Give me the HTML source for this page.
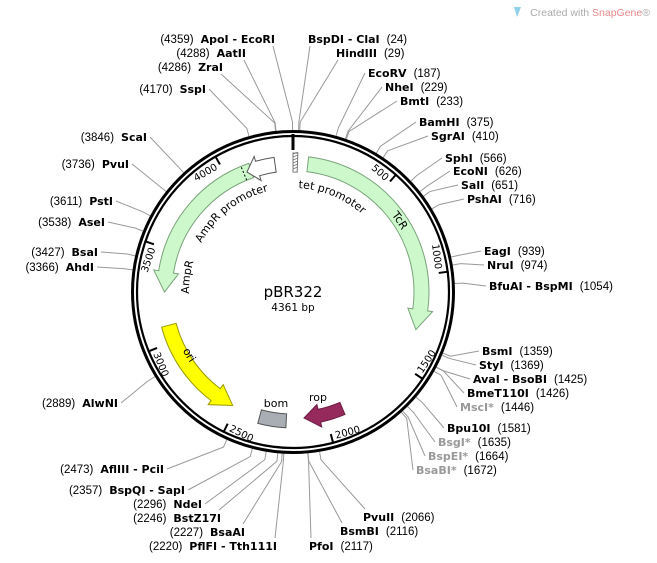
<!DOCTYPE html>
<html><head><meta charset="utf-8"><style>
html,body{margin:0;padding:0;background:#fff;width:657px;height:563px;overflow:hidden}
svg{display:block}
.n{font-family:"DejaVu Sans",Verdana,sans-serif;font-weight:bold;font-size:11px;fill:#000}
.g{fill:#999}
.p{font-family:"Liberation Sans",Arial,sans-serif;font-weight:normal;font-size:11.5px;fill:#000}
.t{font-family:"DejaVu Sans",Verdana,sans-serif;font-size:10px;fill:#000}
.f{font-family:"DejaVu Sans",Verdana,sans-serif;font-size:11px;fill:#000}
</style></head><body>
<svg id="s" width="657" height="563" xmlns="http://www.w3.org/2000/svg">
<g id="lines" stroke="#999" stroke-width="1" fill="none"></g>
<g id="feat"></g>
<circle cx="293" cy="292" r="160.5" fill="none" stroke="#000" stroke-width="3"/>
<circle cx="293" cy="292" r="156" fill="none" stroke="#000" stroke-width="2.2"/>
<g id="ticks"></g>
<text x="293" y="297" text-anchor="middle" style="font-family:'DejaVu Sans',sans-serif;font-size:15px">pBR322</text>
<text x="293" y="311" text-anchor="middle" style="font-family:'DejaVu Sans',sans-serif;font-size:10.5px">4361 bp</text>
<path d="M514 7 l3 10 l4 -10 z" fill="#8fd0ea"/>
<text x="650" y="16" text-anchor="end" style="font-family:'Liberation Sans',sans-serif;font-size:10.5px;fill:#aaa">Created with <tspan fill="#e98a8a">SnapGene</tspan>®</text>
<g id="labels"></g>
</svg>
<script>
const cx=293,cy=292,NS="http://www.w3.org/2000/svg";
function P(r,a){a=a*Math.PI/180;return [cx+r*Math.sin(a),cy-r*Math.cos(a)];}
function ps(p){return p[0].toFixed(2)+" "+p[1].toFixed(2);}
function arc(r,a1,a2){const sw=a2>a1?1:0,lg=Math.abs(a2-a1)>180?1:0;return ` A ${r} ${r} 0 ${lg} ${sw} ${ps(P(r,a2))}`;}
function el(tag,attrs,parent,txt){const e=document.createElementNS(NS,tag);for(const k in attrs)e.setAttribute(k,attrs[k]);if(txt!==undefined)e.textContent=txt;parent.appendChild(e);return e;}
const feat=document.getElementById("feat");
function arrow(a1,a2,ri,ro,head,fill,stroke){const d=Math.sign(a2-a1),b=a2-d*head,m=(ri+ro)/2;
 const p="M "+ps(P(ro,a1))+arc(ro,a1,b)+" L "+ps(P(ro+5,b))+" L "+ps(P(m,a2))+" L "+ps(P(ri-5,b))+" L "+ps(P(ri,b))+arc(ri,b,a1)+" Z";
 el("path",{d:p,fill:fill,stroke:stroke,"stroke-width":1},feat);}
function band(a1,a2,ri,ro,fill,stroke){const p="M "+ps(P(ro,a1))+arc(ro,a1,a2)+" L "+ps(P(ri,a2))+arc(ri,a2,a1)+" Z";el("path",{d:p,fill:fill,stroke:stroke,"stroke-width":1},feat);}
arrow(6.6,107,121,136,9,"#ccf8cc","#7aa37a");
arrow(341,270,121,136,9,"#ccf8cc","#7aa37a");
arrow(352,339,121,136,5,"#fff","#555");
el("path",{d:"M "+ps(P(121,337.5))+" L "+ps(P(136,337.5)),stroke:"#000","stroke-width":1,"stroke-dasharray":"2,2"},feat);
arrow(255,208,121,136,9,"#ffff00","#999900");
arrow(157,175,120,133,7,"#962a5c","#6a1a40");
band(183,195,122,136,"#a8aeb4","#555");
band(0,2,120,139,"#fff","#777");
for(let r=123;r<139;r+=3)el("path",{d:"M "+ps(P(r,0))+" L "+ps(P(r+2,2)),stroke:"#777","stroke-width":0.8},feat);
let defs=el("defs",{},document.getElementById("s"));
function tp(id,r,a1,a2,txt,size){el("path",{id:id,d:"M "+ps(P(r,a1))+arc(r,a1,a2),fill:"none"},defs);
 const t=el("text",{class:"f","font-size":size||11},feat);const q=el("textPath",{href:"#"+id},t,txt);q.setAttributeNS("http://www.w3.org/1999/xlink","href","#"+id);}
tp("tp1",104,3,60,"tet promoter",11.5);
tp("tp2",104,298,355,"AmpR promoter",11.5);
tp("tp3",104,269,296,"AmpR",11);
tp("tp4",125,52,75,"TcR",11);
tp("tp5",125,242,225,"ori",11);
el("text",{class:"f",x:276,y:407,"text-anchor":"middle","font-size":11.5},feat,"bom");
el("text",{class:"f",x:318,y:401,"text-anchor":"middle","font-size":11.5},feat,"rop");
const tk=document.getElementById("ticks");
el("path",{d:"M "+ps(P(142,0))+" L "+ps(P(158,0)),stroke:"#000","stroke-width":3},tk);
for(let k=500;k<4361;k+=500){const a=k/4361*360;el("path",{d:"M "+ps(P(147,a))+" L "+ps(P(157,a)),stroke:"#000","stroke-width":2},tk);
 const ta=a-1.5;
 if(a<90||a>270){const p=P(144,ta);el("text",{class:"t",x:p[0],y:p[1],"text-anchor":"end",transform:`rotate(${a} ${p[0]} ${p[1]})`},tk,String(k));}
 else{const p=P(153,ta);el("text",{class:"t",x:p[0],y:p[1],"text-anchor":"start",transform:`rotate(${a-180} ${p[0]} ${p[1]})`},tk,String(k));}
}
const L=[
["BspDI - ClaI",24,"R",308,39],["HindIII",29,"R",336,53],["EcoRV",187,"R",368,73],["NheI",229,"R",385,87],["BmtI",233,"R",400,101],
["BamHI",375,"R",419,122],["SgrAI",410,"R",431,136],["SphI",566,"R",445,158],["EcoNI",626,"R",453,171],["SalI",651,"R",461,185],["PshAI",716,"R",467,199],
["EagI",939,"R",484,251],["NruI",974,"R",487,265],["BfuAI - BspMI",1054,"R",489,286],
["BsmI",1359,"R",482,351],["StyI",1369,"R",479,365],["AvaI - BsoBI",1425,"R",473,379],["BmeT110I",1426,"R",467,393],["MscI*",1446,"R",460,407,1],
["Bpu10I",1581,"R",447,428],["BsgI*",1635,"R",438,442,1],["BspEI*",1664,"R",428,456,1],["BsaBI*",1672,"R",416,470,1],
["PvuII",2066,"R",363,517],["BsmBI",2116,"R",340,531],["PfoI",2117,"R",309,546],
["ApoI - EcoRI",4359,"L",275,39],["AatII",4288,"L",246,53],["ZraI",4286,"L",223,67],["SspI",4170,"L",206,89],
["ScaI",3846,"L",147,137],["PvuI",3736,"L",129,164],["PstI",3611,"L",113,201],["AseI",3538,"L",105,222],["BsaI",3427,"L",98,252],["AhdI",3366,"L",94,267],
["AlwNI",2889,"L",118,403],["AflIII - PciI",2473,"L",164,469],["BspQI - SapI",2357,"L",185,490],["NdeI",2296,"L",202,504],["BstZ17I",2246,"L",221,518],
["BsaAI",2227,"L",245,532],["PflFI - Tth111I",2220,"L",277,546]];
const lb=document.getElementById("labels"),ln=document.getElementById("lines");
for(const [n,b,s,x,y,g] of L){const a=b/4361*360;const p1=P(162,a),p2=P(170,a);
 let ax=s=="R"?x-3:x+3,ay=y;
 if(y<70){ay=y+7;ax=s=="R"?x+2:x-2;}
 if(y>510){ay=y-8;ax=s=="R"?x+2:x-2;}
 el("path",{d:"M "+ps(p1)+" L "+ps(p2)+" L "+ax+" "+ay},ln);
 const t=el("text",{x:x,y:y+4,"text-anchor":s=="R"?"start":"end"},lb);
 if(s=="R"){el("tspan",{class:"n"+(g?" g":"")},t,n);el("tspan",{class:"p",dx:7},t,"("+b+")");}
 else{el("tspan",{class:"p"},t,"("+b+")");el("tspan",{class:"n",dx:7},t,n);}
}
</script>
</body></html>
